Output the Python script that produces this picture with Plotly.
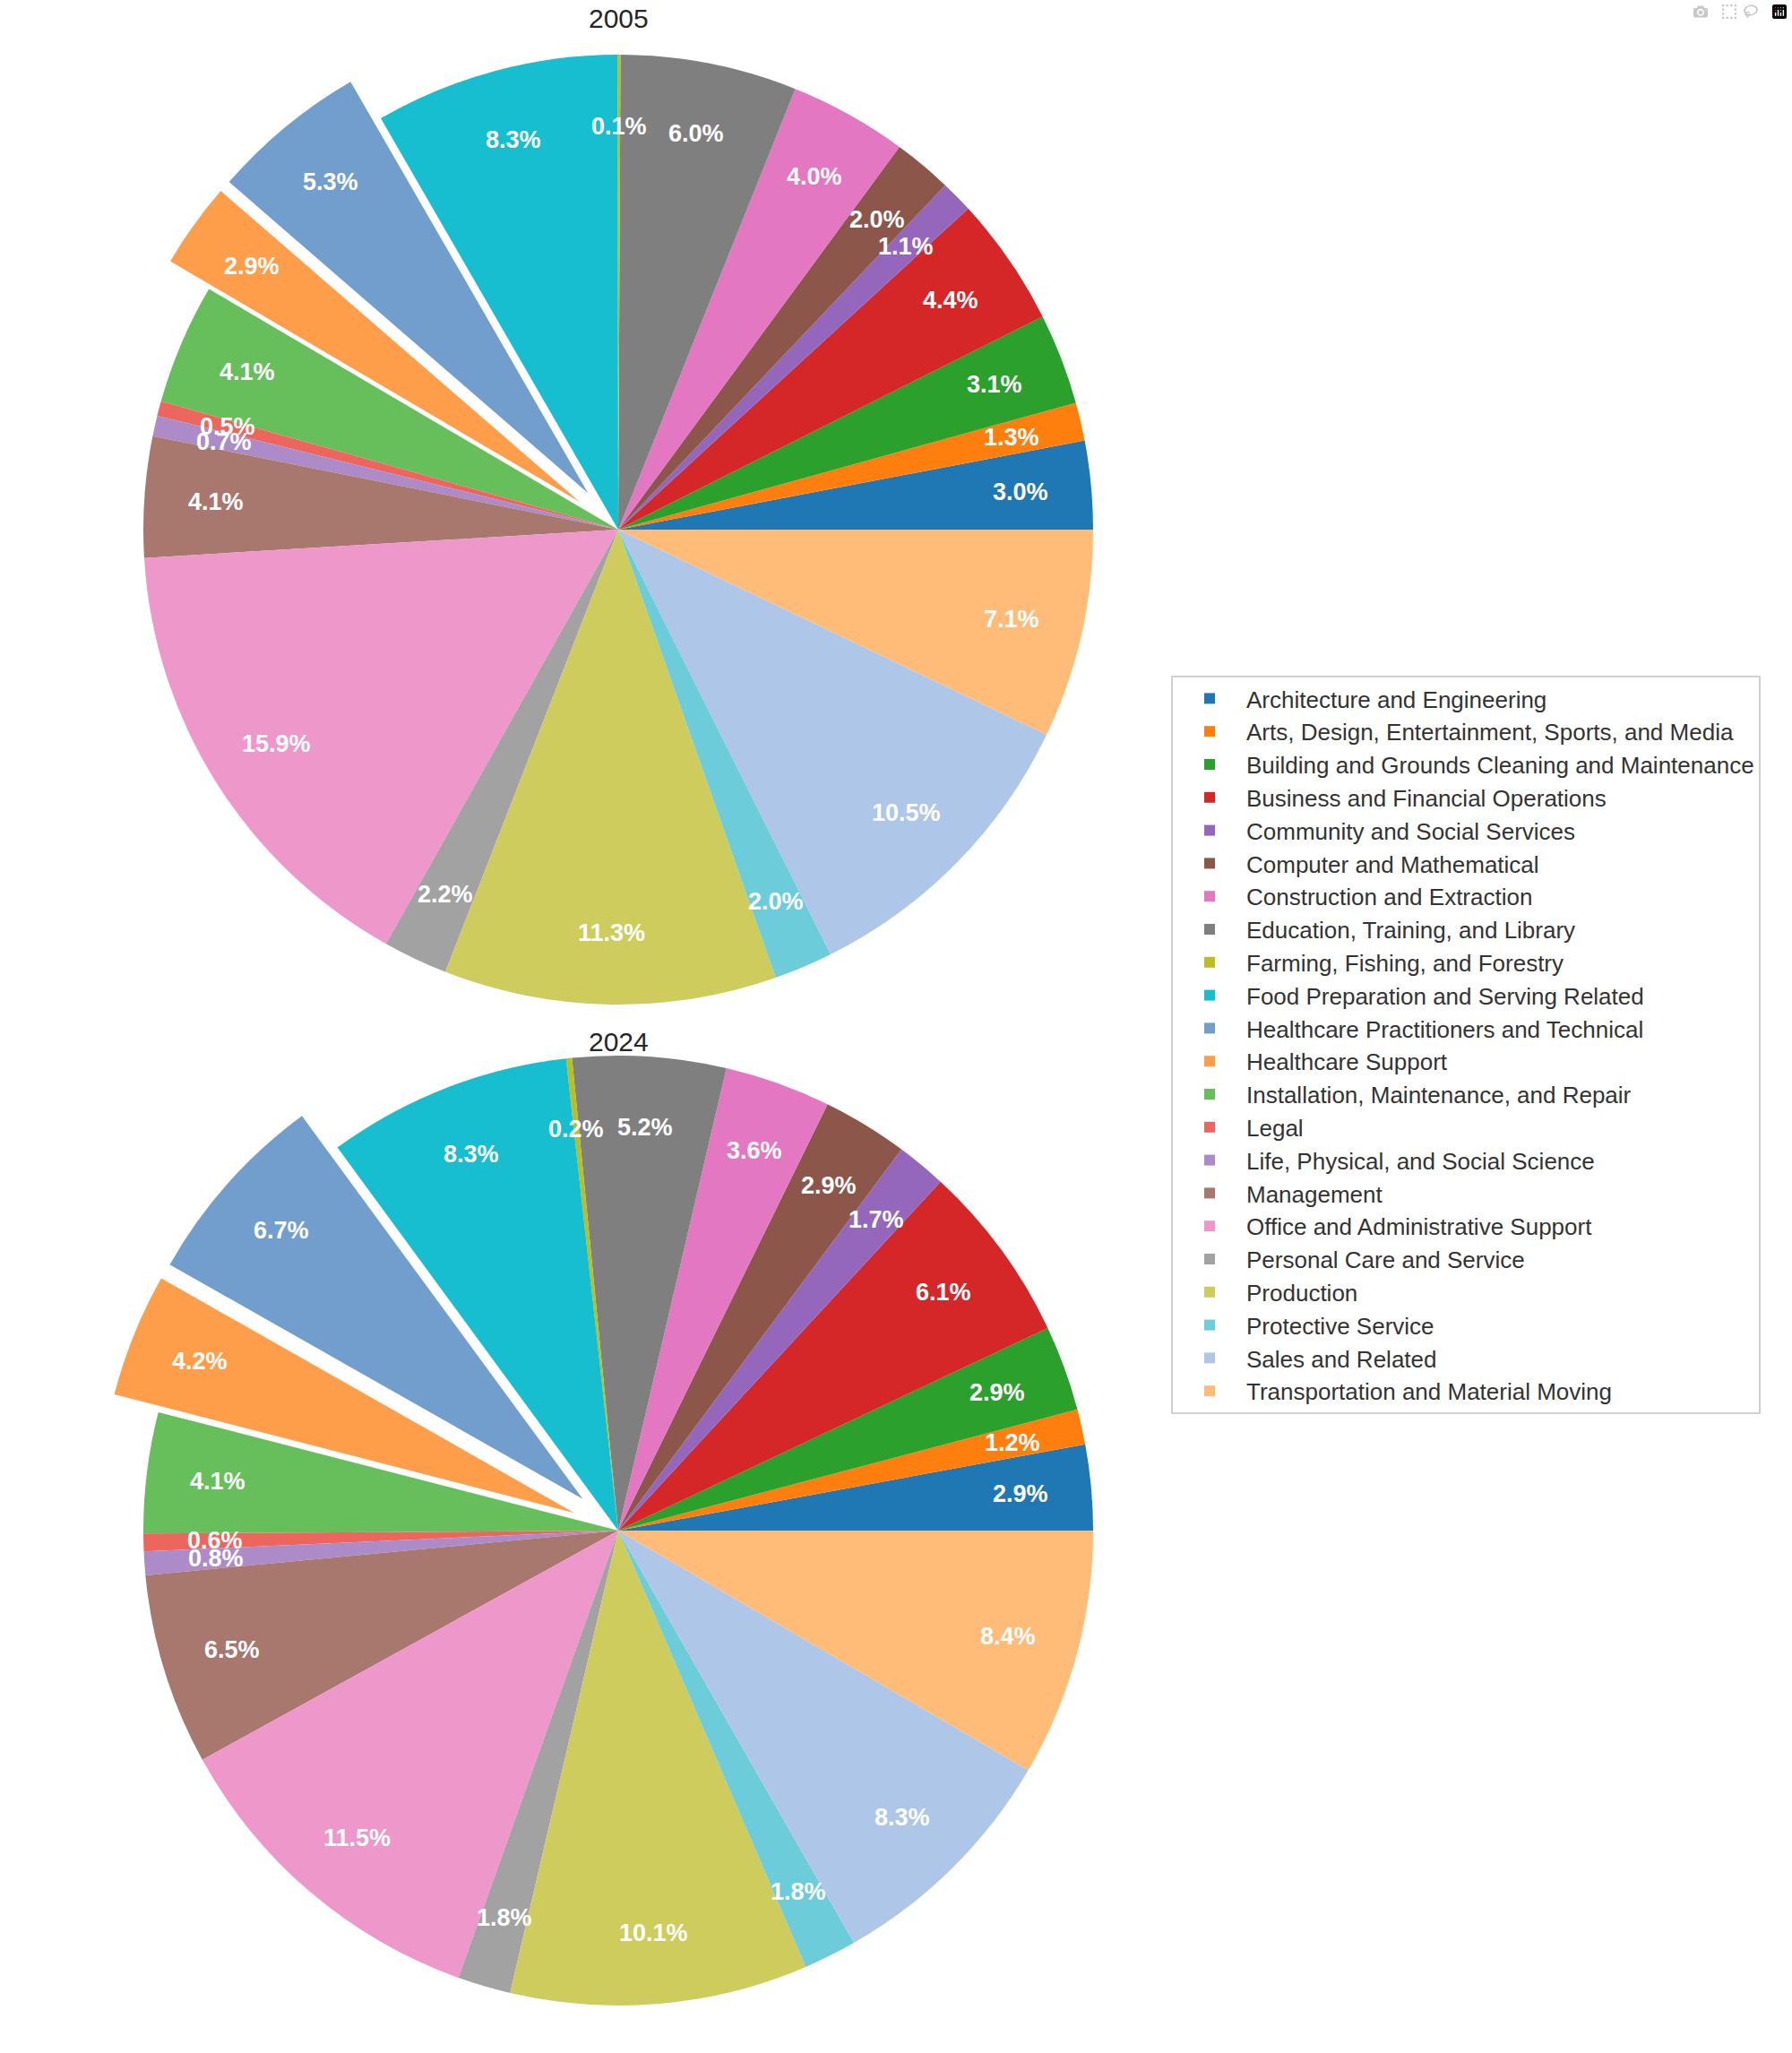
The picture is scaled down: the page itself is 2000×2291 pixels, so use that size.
import math
import plotly.graph_objects as go

categories = [
    "Architecture and Engineering",
    "Arts, Design, Entertainment, Sports, and Media",
    "Building and Grounds Cleaning and Maintenance",
    "Business and Financial Operations",
    "Community and Social Services",
    "Computer and Mathematical",
    "Construction and Extraction",
    "Education, Training, and Library",
    "Farming, Fishing, and Forestry",
    "Food Preparation and Serving Related",
    "Healthcare Practitioners and Technical",
    "Healthcare Support",
    "Installation, Maintenance, and Repair",
    "Legal",
    "Life, Physical, and Social Science",
    "Management",
    "Office and Administrative Support",
    "Personal Care and Service",
    "Production",
    "Protective Service",
    "Sales and Related",
    "Transportation and Material Moving",
]

values_2005 = [3.0, 1.3, 3.1, 4.4, 1.1, 2.0, 4.0, 6.0, 0.1, 8.3, 5.3,
               2.9, 4.1, 0.5, 0.7, 4.1, 15.9, 2.2, 11.3, 2.0, 10.5, 7.1]
values_2024 = [2.9, 1.2, 2.9, 6.1, 1.7, 2.9, 3.6, 5.2, 0.2, 8.3, 6.7,
               4.2, 4.1, 0.6, 0.8, 6.5, 11.5, 1.8, 10.1, 1.8, 8.3, 8.4]

years = ["2005", "2024"]

colors = [
    "#1f77b4", "#ff7f0e", "#2ca02c", "#d62728", "#9467bd",
    "#8c564b", "#e377c2", "#7f7f7f", "#bcbd22", "#17becf",
    "#729ece", "#ff9e4a", "#67bf5c", "#ed665d", "#ad8bc9",
    "#a8786e", "#ed97ca", "#a2a2a2", "#cdcc5d", "#6dccda",
    "#aec7e8", "#ffbb78",
]

exploded = ["Healthcare Practitioners and Technical", "Healthcare Support"]
PULL = 0.1
PCT_DIST = 0.85

W, H = 2000, 2291
CX = 690          # pie centre x (px)
HALF_BOX = 583    # half size of each pie's domain box (px)
CY = [591, H - HALF_BOX]   # pie centres y from top (px)
R = HALF_BOX / (1 + PULL)  # pie radius as plotly computes it

FONT = "Liberation Sans, Arial, sans-serif"

fig = go.Figure()
for year, vals, cy in zip(years, [values_2005, values_2024], CY):
    total = sum(vals)
    top = cy - HALF_BOX
    bottom = cy + HALF_BOX
    pulls = [PULL if c in exploded else 0 for c in categories]
    fig.add_trace(go.Pie(
        labels=categories,
        values=vals,
        text=[f"{v:.1f}%" for v in vals],
        textinfo="none",
        hoverinfo="label+text",
        marker=dict(colors=colors, line=dict(width=0)),
        pull=pulls,
        sort=False,
        direction="counterclockwise",
        # first slice starts at 3 o'clock and runs counterclockwise
        rotation=90 - 360 * vals[0] / total,
        domain=dict(x=[(CX - HALF_BOX) / W, (CX + HALF_BOX) / W],
                    y=[max(0, 1 - bottom / H), min(1, 1 - top / H)]),
        name=year,
    ))

    # percentage labels at 85% of the radius (pushed out with exploded wedges)
    cum = 0.0
    for v, p in zip(vals, pulls):
        mid = math.radians(360 * (cum + v / 2) / total)
        d = (PCT_DIST + p) * R
        fig.add_annotation(
            x=CX + d * math.cos(mid), y=cy - d * math.sin(mid),
            xref="x", yref="y", text=f"{v:.1f}%", showarrow=False,
            xanchor="center", yanchor="middle",
            font=dict(family=FONT, size=27, color="white", weight="bold"),
        )
        cum += v

# invisible helper trace so the pixel-unit axes exist
fig.add_trace(go.Scatter(x=[0, W], y=[0, H], mode="markers",
                         marker=dict(opacity=0), hoverinfo="skip", showlegend=False))

fig.add_annotation(text="2005", x=CX / W, y=1 - 20 / H, xref="paper", yref="paper",
                   showarrow=False, yanchor="middle",
                   font=dict(family=FONT, size=30, color="#262626"))
fig.add_annotation(text="2024", x=CX / W, y=1 - 1163 / H, xref="paper", yref="paper",
                   showarrow=False, yanchor="middle",
                   font=dict(family=FONT, size=30, color="#262626"))

fig.update_layout(
    width=W, height=H,
    margin=dict(l=0, r=0, t=0, b=0),
    paper_bgcolor="white", plot_bgcolor="rgba(0,0,0,0)",
    xaxis=dict(range=[0, W], visible=False, fixedrange=True, domain=[0, 1]),
    yaxis=dict(range=[H, 0], visible=False, fixedrange=True, domain=[0, 1]),
    legend=dict(
        x=1307 / W, xanchor="left",
        y=1 - 1166 / H, yanchor="middle",
        font=dict(family=FONT, size=26, color="#333333"),
        bordercolor="#d0d0d0", borderwidth=2,
        bgcolor="white",
        itemwidth=72,
        traceorder="normal",
    ),
    showlegend=True,
)

fig.write_html("out.html", post_script="document.body.style.margin='0';document.body.style.overflow='hidden';")
